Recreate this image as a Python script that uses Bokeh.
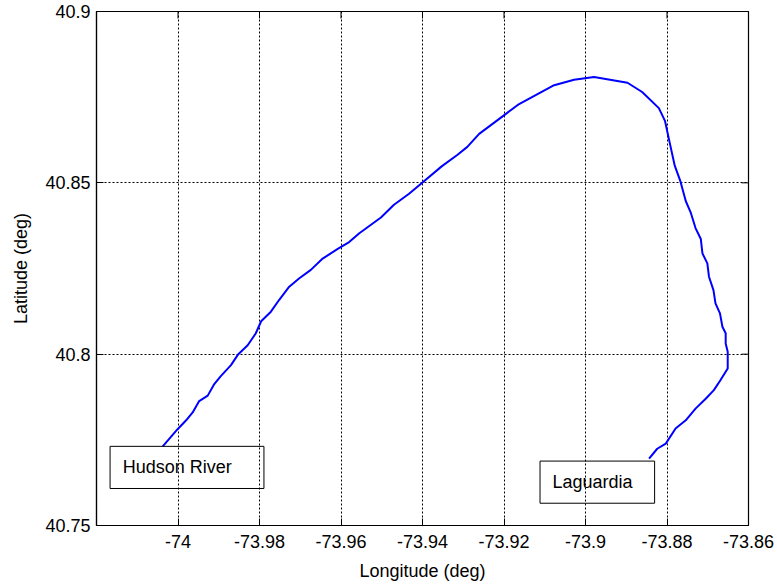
from bokeh.plotting import figure
from bokeh.models import Range1d, FixedTicker
from bokeh.core.properties import value
from bokeh.embed import file_html
from bokeh.resources import INLINE

# Flight track (longitude, latitude in degrees)
lon = [-74.00375, -74.0001, -73.9980, -73.9964, -73.9948, -73.9927, -73.9912,
       -73.9895, -73.9870, -73.9852, -73.9829, -73.9809, -73.9796, -73.9772,
       -73.9752, -73.9727, -73.9703, -73.9674, -73.9645, -73.9608, -73.9580,
       -73.9555, -73.9502, -73.9470, -73.9433, -73.9400, -73.9353, -73.9314,
       -73.9290, -73.9261, -73.9201, -73.9163, -73.9077, -73.9028, -73.8979,
       -73.8897, -73.8861, -73.8820, -73.8805, -73.8795, -73.8781, -73.8767,
       -73.8754, -73.8742, -73.8730, -73.8717, -73.8713, -73.8701, -73.8697,
       -73.8686, -73.8681, -73.8670, -73.8664, -73.8656, -73.8656, -73.8651,
       -73.8651, -73.8669, -73.8685, -73.8705, -73.8730, -73.8754, -73.8779,
       -73.8803, -73.8824, -73.8844]
lat = [40.7731, 40.7781, 40.7807, 40.7830, 40.7863, 40.7879, 40.7911,
       40.7936, 40.7968, 40.8000, 40.8026, 40.8061, 40.8096, 40.8124,
       40.8158, 40.8197, 40.8221, 40.8246, 40.8279, 40.8307, 40.8327,
       40.8353, 40.8399, 40.8436, 40.8468, 40.8501, 40.8548, 40.8582,
       40.8605, 40.8643, 40.8696, 40.8730, 40.8785, 40.8801, 40.8809,
       40.8792, 40.8765, 40.8718, 40.8681, 40.8626, 40.8550, 40.8504,
       40.8447, 40.8414, 40.8368, 40.8336, 40.8294, 40.8265, 40.8226,
       40.8187, 40.8148, 40.8119, 40.8080, 40.8061, 40.8031, 40.8007,
       40.7958, 40.7924, 40.7895, 40.7870, 40.7841, 40.7807, 40.7783,
       40.7739, 40.7724, 40.7695]

x_ticks = [-74.0, -73.98, -73.96, -73.94, -73.92, -73.9, -73.88, -73.86]
x_tick_labels = ["-74", "-73.98", "-73.96", "-73.94", "-73.92", "-73.9", "-73.88", "-73.86"]
y_ticks = [40.75, 40.8, 40.85, 40.9]
y_tick_labels = ["40.75", "40.8", "40.85", "40.9"]

# Place-name annotations: text anchor and surrounding frame (data units)
place_names = ["Hudson River", "Laguardia"]
name_x = [-74.01356, -73.90812]
name_y = [40.7670, 40.7627]
frame_left = [-74.01667, -73.91116]
frame_right = [-73.97891, -73.88304]
frame_top = [40.7731, 40.7688]
frame_bottom = [40.7608, 40.7565]

X_LIM = (-74.02, -73.86)
Y_LIM = (40.75, 40.9)

FONT = "Liberation Sans"
FS = "18px"
TICK_LEN = 7

p = figure(width=777, height=588, output_backend="svg", toolbar_location=None,
           x_range=Range1d(*X_LIM), y_range=Range1d(*Y_LIM),
           min_border_left=96, min_border_right=29, min_border_top=11,
           min_border_bottom=63)
p.background_fill_color = "white"
p.border_fill_color = "white"
p.outline_line_color = "black"
p.outline_line_width = 1.2

# Axes
p.xaxis.ticker = FixedTicker(ticks=x_ticks)
p.yaxis.ticker = FixedTicker(ticks=y_ticks)
p.xaxis.major_label_overrides = dict(zip(x_ticks, x_tick_labels))
p.yaxis.major_label_overrides = dict(zip(y_ticks, y_tick_labels))
p.xaxis.axis_label = "Longitude (deg)"
p.yaxis.axis_label = "Latitude (deg)"
for ax in (p.xaxis[0], p.yaxis[0]):
    ax.axis_line_color = "black"
    ax.axis_line_width = 1.2
    ax.major_tick_line_color = "black"
    ax.major_tick_in = TICK_LEN
    ax.major_tick_out = 0
    ax.minor_tick_line_color = None
    ax.major_label_text_font = FONT
    ax.major_label_text_font_size = FS
    ax.major_label_text_color = "black"
    ax.axis_label_text_font = FONT
    ax.axis_label_text_font_size = FS
    ax.axis_label_text_font_style = "normal"
    ax.axis_label_text_color = "black"
p.xaxis.major_label_standoff = 9
p.xaxis.axis_label_standoff = 10
p.yaxis.major_label_standoff = 6
p.yaxis.axis_label_standoff = 11

# Dotted grid
for g in (p.xgrid[0], p.ygrid[0]):
    g.grid_line_color = "black"
    g.grid_line_dash = "2 2"
    g.grid_line_width = 1
    g.grid_line_alpha = 1.0

# Inward tick marks on the top and right edges (clipped to the frame)
p.scatter(x=x_ticks, y=[Y_LIM[1]] * len(x_ticks), marker="dash", angle=1.5708,
          size=2 * TICK_LEN, line_color="black", line_width=1)
p.scatter(x=[X_LIM[1]] * len(y_ticks), y=y_ticks, marker="dash",
          size=2 * TICK_LEN, line_color="black", line_width=1)

# Track
p.line(lon, lat, line_color="#0000ff", line_width=2)

# Annotations
p.quad(left=frame_left, right=frame_right, top=frame_top, bottom=frame_bottom,
       fill_alpha=0, line_color="black", line_width=1)
p.text(x=name_x, y=name_y, text=place_names, text_font=value(FONT),
       text_font_size=value(FS), text_color="black",
       text_align="left", text_baseline="middle")

open("out.html", "w").write(file_html(p, INLINE))
